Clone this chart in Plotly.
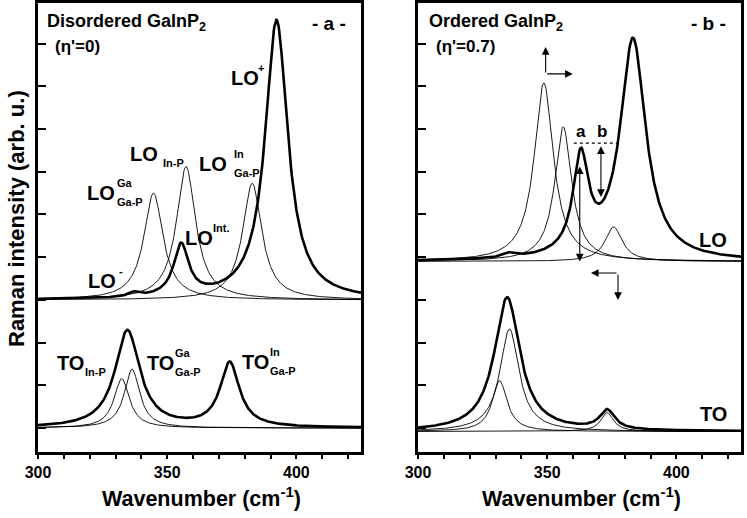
import numpy as np
import plotly.graph_objects as go

W, H = 747, 518
FONT = "Liberation Sans, Arial"

# --- peak parameters (centre cm-1, height, half width) ---
# panel a : disordered GaInP2
a_lo_base = 3.0
a_lo_thin_pos = [344.7, 357.3, 382.9]
a_lo_thin_amp = [2.50, 3.12, 2.73]
a_lo_thin_hw = [4.5, 4.5, 4.5]
a_lo_thick_pos = [337.0, 355.4, 392.3]
a_lo_thick_amp = [0.10, 1.21, 6.54]
a_lo_thick_hw = [2.5, 3.5, 5.3]

a_to_base = 0.0
a_to_thin_pos = [332.4, 336.4]
a_to_thin_amp = [1.16, 1.38]
a_to_thin_hw = [3.6, 3.6]
a_to_thick_pos = [334.6, 374.2]
a_to_thick_amp = [2.28, 1.51]
a_to_thick_hw = [5.8, 4.5]

# panel b : ordered GaInP2
b_lo_base = 3.9
b_lo_thin_pos = [348.7, 356.2, 375.7]
b_lo_thin_amp = [4.18, 3.15, 0.81]
b_lo_thin_hw = [4.5, 4.0, 4.0]
b_lo_thick_pos = [335.0, 363.0, 383.2]
b_lo_thick_amp = [0.10, 2.24, 5.17]
b_lo_thick_hw = [3.0, 3.6, 6.0]

b_to_base = -0.08
b_to_thin_pos = [331.6, 335.4, 373.2]
b_to_thin_amp = [1.19, 2.40, 0.44]
b_to_thin_hw = [3.5, 4.5, 3.0]
b_to_thick_pos = [334.5, 373.2]
b_to_thick_amp = [3.14, 0.45]
b_to_thick_hw = [6.0, 3.5]

x_major = [300, 350, 400]
y_ticks = list(range(0, 10))

wn = np.linspace(300, 425, 501)


def lor(c, a, g):
    return a / (1 + ((wn - c) / g) ** 2)


def add_curves(fig, base, pos, amp, hw, thick, xa, ya, single=False):
    if single:
        y = base + sum(lor(c, a, g) for c, a, g in zip(pos, amp, hw))
        ys = [y]
    else:
        ys = [base + lor(c, a, g) for c, a, g in zip(pos, amp, hw)]
    for y in ys:
        fig.add_trace(go.Scatter(x=wn, y=y, mode="lines", xaxis=xa, yaxis=ya,
                                 line=dict(color="black", width=2.6 if thick else 0.9),
                                 showlegend=False, hoverinfo="skip"))


fig = go.Figure()
# panel a
add_curves(fig, a_lo_base, a_lo_thin_pos, a_lo_thin_amp, a_lo_thin_hw, False, "x", "y")
add_curves(fig, a_lo_base, a_lo_thick_pos, a_lo_thick_amp, a_lo_thick_hw, True, "x", "y", single=True)
add_curves(fig, a_to_base, a_to_thin_pos, a_to_thin_amp, a_to_thin_hw, False, "x", "y")
add_curves(fig, a_to_base, a_to_thick_pos, a_to_thick_amp, a_to_thick_hw, True, "x", "y", single=True)
# panel b
add_curves(fig, b_lo_base, b_lo_thin_pos, b_lo_thin_amp, b_lo_thin_hw, False, "x2", "y2")
add_curves(fig, b_lo_base, b_lo_thick_pos, b_lo_thick_amp, b_lo_thick_hw, True, "x2", "y2", single=True)
add_curves(fig, b_to_base, b_to_thin_pos, b_to_thin_amp, b_to_thin_hw, False, "x2", "y2")
add_curves(fig, b_to_base, b_to_thick_pos, b_to_thick_amp, b_to_thick_hw, True, "x2", "y2", single=True)

xax = dict(range=[300, 425], tickvals=x_major, ticks="outside", automargin=False,
           ticklen=4, tickwidth=2, tickcolor="black", showline=True, linewidth=2.6,
           linecolor="black", mirror=True, showgrid=False, zeroline=False,
           minor=dict(dtick=10, tick0=300, ticks="outside", ticklen=4, tickwidth=2,
                      tickcolor="black", showgrid=False),
           tickfont=dict(family=FONT, size=16, color="black", weight="bold"))
yax = dict(range=[-0.56, 9.95], tickvals=y_ticks, ticks="inside", ticklen=8, tickwidth=2.2,
           tickcolor="black", showticklabels=False, showline=True, linewidth=2.6,
           linecolor="black", mirror=True, showgrid=False, zeroline=False, automargin=False)


def label(x, y, text, size, xanchor="left", yanchor="middle", angle=0):
    return dict(x=x / W, y=1 - y / H, xref="paper", yref="paper", text=text, showarrow=False,
                xanchor=xanchor, yanchor=yanchor, textangle=angle,
                font=dict(family=FONT, size=size, color="black", weight="bold"))


def mode_label(x, y, main, sup=None, sub=None, sx=None):
    # big "LO"/"TO" with stacked super- and subscript to its right
    out = [label(x, y, main, 20)]
    sx = sx if sx is not None else x + 29
    if sup:
        out.append(label(sx, y - 10, sup, 11))
    if sub:
        out.append(label(sx, y + 9, sub, 11))
    return out


ann = []
# panel a texts
ann.append(label(45, 22, "Disordered GaInP<sub>2</sub>", 18))
ann.append(label(53, 46, "(η'=0)", 17))
ann.append(label(348, 23, "- a -", 19, xanchor="right"))
ann += mode_label(229, 78, "LO", sup="+", sx=256)
ann += mode_label(128, 154, "LO", sub="In-P", sx=161)
ann += mode_label(197, 164, "LO", sup="In", sub="Ga-P", sx=232)
ann += mode_label(85, 193, "LO", sup="Ga", sub="Ga-P", sx=115)
ann += mode_label(183, 238, "LO", sup="Int.", sx=211)
ann += mode_label(86, 281, "LO", sup="-", sx=117)
ann += mode_label(55, 363, "TO", sub="In-P", sx=83)
ann += mode_label(145, 363, "TO", sup="Ga", sub="Ga-P", sx=173)
ann += mode_label(240, 362, "TO", sup="In", sub="Ga-P", sx=268)
# panel b texts
ann.append(label(427, 22, "Ordered GaInP<sub>2</sub>", 18))
ann.append(label(434, 46, "(η'=0.7)", 17))
ann.append(label(728, 23, "- b -", 19, xanchor="right"))
ann.append(label(729, 240, "LO", 20, xanchor="right"))
ann.append(label(729, 414, "TO", 20, xanchor="right"))
ann.append(label(581, 131, "a", 17, xanchor="center"))
ann.append(label(602, 131, "b", 17, xanchor="center"))
# axis titles
ann.append(label(17, 219, "Raman intensity (arb. u.)", 22, xanchor="center", angle=-90))
ann.append(label(202, 497, "Wavenumber (cm<sup>-1</sup>)", 21.5, xanchor="center"))
ann.append(label(581, 497, "Wavenumber (cm<sup>-1</sup>)", 21.5, xanchor="center"))


def arrow(x, y, ax, ay, both=False):
    return dict(x=x, y=y, ax=ax, ay=ay, xref="x2", yref="y2", axref="x2", ayref="y2",
                text="", showarrow=True, arrowhead=2, arrowsize=1.4, arrowwidth=1.1,
                arrowcolor="black", arrowside="end+start" if both else "end")


ann.append(arrow(362.6, 3.9, 362.6, 6.16, both=True))
ann.append(arrow(370.8, 5.41, 370.8, 6.63, both=True))
ann.append(arrow(349.4, 8.92, 349.4, 8.29))
ann.append(arrow(359.9, 8.29, 349.4, 8.29))
ann.append(arrow(366.9, 3.63, 377.4, 3.63))
ann.append(arrow(377.4, 3.0, 377.4, 3.63))

shapes = [dict(type="line", xref="x2", yref="y2", x0=360.3, x1=377.0, y0=6.67, y1=6.67,
               line=dict(color="black", width=1.2, dash="dot"))]

fig.update_layout(
    width=W, height=H, margin=dict(l=0, r=0, t=0, b=0),
    paper_bgcolor="white", plot_bgcolor="white",
    xaxis=dict(domain=[38 / W, 361 / W], anchor="y", **xax),
    yaxis=dict(domain=[1 - 452 / H, 1 - 3 / H], anchor="x", **yax),
    xaxis2=dict(domain=[418 / W, 741 / W], anchor="y2", **xax),
    yaxis2=dict(domain=[1 - 452 / H, 1 - 3 / H], anchor="x2", **yax),
    annotations=ann, shapes=shapes,
)

fig.write_html("out.html", config={"displayModeBar": False},
               post_script="document.body.style.margin='0px';")
